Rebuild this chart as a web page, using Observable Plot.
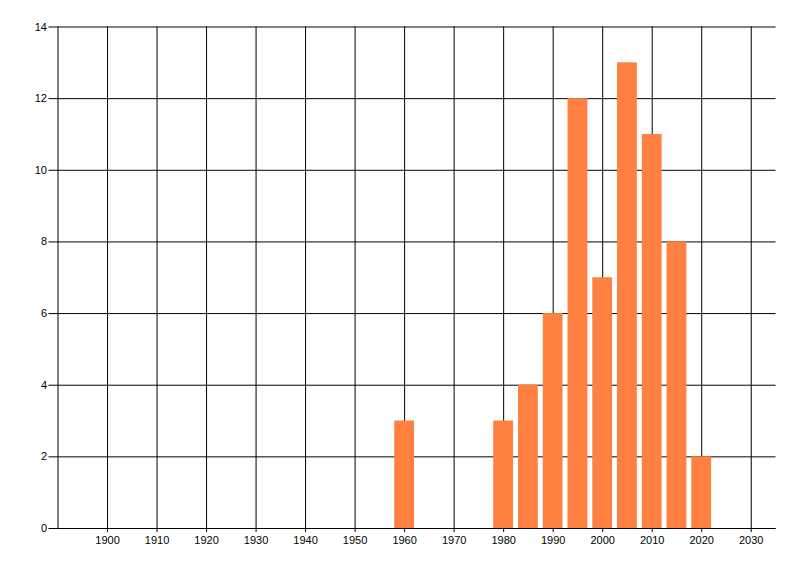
<!DOCTYPE html>
<html>
<head>
<meta charset="utf-8">
<script src="https://cdn.jsdelivr.net/npm/d3@7"></script>
<script src="https://cdn.jsdelivr.net/npm/@observablehq/plot@0.6"></script>
<style>
  html, body { margin: 0; padding: 0; background: #fff; }
  #chart svg { display: block; }
</style>
</head>
<body>
<div id="chart"></div>
<script>
const years = [1960, 1980, 1985, 1990, 1995, 2000, 2005, 2010, 2015, 2020];
const counts = [3, 3, 4, 6, 12, 7, 13, 11, 8, 2];
const xTicks = [1900, 1910, 1920, 1930, 1940, 1950, 1960, 1970, 1980, 1990, 2000, 2010, 2020, 2030];
const yTicks = [0, 2, 4, 6, 8, 10, 12, 14];
const xDomain = [1890, 2035];
const yDomain = [0, 14];
const barHalfWidth = 2;

const data = years.map((y, i) => ({year: y, count: counts[i]}));

const chart = Plot.plot({
  width: 800,
  height: 576,
  marginLeft: 57.5,
  marginRight: 24.5,
  marginTop: 26.5,
  marginBottom: 48,
  style: {fontFamily: "'Liberation Sans', Arial, sans-serif", fontSize: "11px", color: "#000", background: "#fff"},
  x: {domain: xDomain, ticks: xTicks, tickFormat: d => String(d)},
  y: {domain: yDomain, ticks: yTicks},
  marks: [
    Plot.ruleX(xTicks, {y1: yDomain[0], y2: yDomain[1], stroke: "#000", strokeWidth: 1}),
    Plot.ruleY(yTicks, {x1: xDomain[0], x2: xDomain[1], stroke: "#000", strokeWidth: 1}),
    Plot.ruleX([xDomain[0]], {y1: yDomain[0], y2: yDomain[1], stroke: "#000", strokeWidth: 1}),
    Plot.rectY(data, {x1: d => d.year - barHalfWidth, x2: d => d.year + barHalfWidth, y: "count", fill: "#FF8040"}),
    Plot.ruleY([0], {x1: xDomain[0], x2: xDomain[1], stroke: "#000", strokeWidth: 1}),
    Plot.axisX({ticks: xTicks, tickSize: 4, tickPadding: 4, label: null, stroke: "#000", strokeOpacity: 1, tickFormat: d => String(d)}),
    Plot.axisY({ticks: yTicks, tickSize: 9, tickPadding: 2, label: null, stroke: "#000", strokeOpacity: 1})
  ]
});
document.getElementById("chart").appendChild(chart);
</script>
</body>
</html>
